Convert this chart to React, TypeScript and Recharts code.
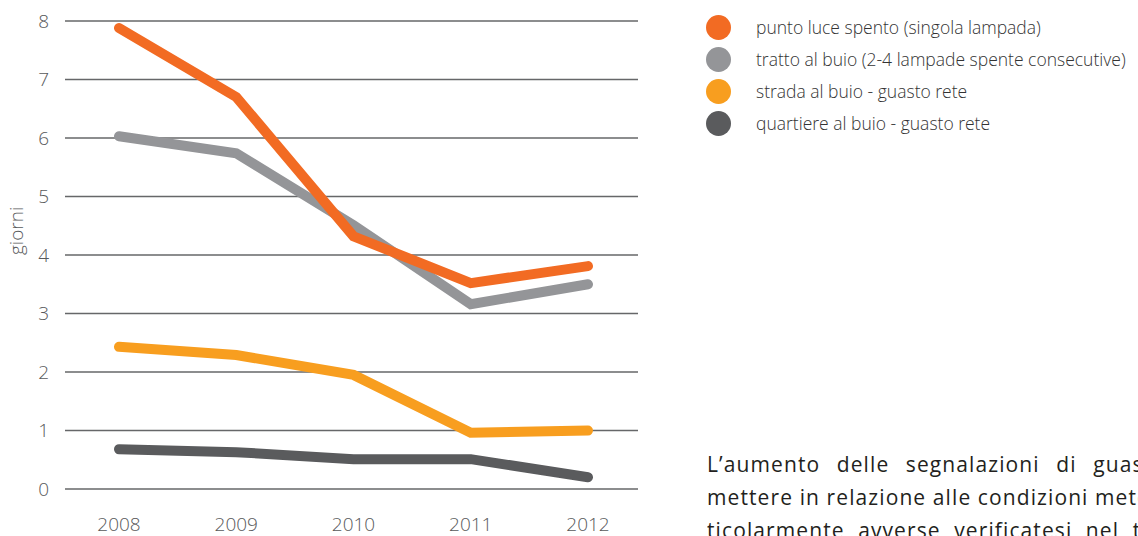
import { LineChart, Line, XAxis, YAxis, CartesianGrid } from "recharts";

const years = ["2008", "2009", "2010", "2011", "2012"];
const puntoLuce = [7.88, 6.7, 4.32, 3.52, 3.81];
const tratto = [6.03, 5.74, 4.51, 3.16, 3.5];
const strada = [2.43, 2.29, 1.95, 0.96, 1.0];
const quartiere = [0.68, 0.63, 0.51, 0.51, 0.2];
const yTicks = [0, 1, 2, 3, 4, 5, 6, 7, 8];

const series = [
  { key: "puntoLuce", name: "punto luce spento (singola lampada)", color: "#f26b23" },
  { key: "tratto", name: "tratto al buio (2-4 lampade spente consecutive)", color: "#949598" },
  { key: "strada", name: "strada al buio - guasto rete", color: "#f89e1f" },
  { key: "quartiere", name: "quartiere al buio - guasto rete", color: "#5a5b5d" },
];

const data = years.map((year, i) => ({
  year,
  puntoLuce: puntoLuce[i],
  tratto: tratto[i],
  strada: strada[i],
  quartiere: quartiere[i],
}));

const font = "'Open Sans', 'Noto Sans', sans-serif";

const LegendBox = () => (
  <div style={{ position: "absolute", left: 706, top: 11, fontFamily: font, fontSize: 17.5, fontWeight: 300, color: "#333" }}>
    {series.map((s) => (
      <div key={s.key} style={{ display: "flex", alignItems: "center", height: 32 }}>
        <span
          style={{
            width: 25,
            height: 25,
            borderRadius: "50%",
            background: s.color,
            display: "inline-block",
            marginRight: 25,
            flexShrink: 0,
          }}
        />
        <span style={{ whiteSpace: "nowrap" }}>{s.name}</span>
      </div>
    ))}
  </div>
);

const lines = [
  { text: "L’aumento delle segnalazioni di guasto è da", spacing: 10 },
  { text: "mettere in relazione alle condizioni meteorologiche", spacing: 0 },
  { text: "ticolarmente avverse verificatesi nel territorio", spacing: 7 },
];

export default function App() {
  return (
    <div style={{ position: "absolute", left: 0, top: 0, width: 1138, height: 536, overflow: "hidden", background: "#fff" }}>
      <LineChart width={1138} height={536} data={data} margin={{ top: 21, right: 500, bottom: 17, left: 0 }}>
        <CartesianGrid vertical={false} stroke="#666769" strokeWidth={1.5} />
        <XAxis
          dataKey="year"
          axisLine={false}
          tickLine={false}
          padding={{ left: 54, right: 50 }}
          tick={{ fill: "#58595b", fontSize: 19, fontFamily: font, fontWeight: 300 }}
          tickMargin={23}
        />
        <YAxis
          width={65}
          domain={[0, 8]}
          ticks={yTicks}
          axisLine={false}
          tickLine={false}
          tickMargin={10}
          tick={{ fill: "#58595b", fontSize: 19, fontFamily: font, fontWeight: 300 }}
          label={{ value: "giorni", angle: -90, position: "insideLeft", offset: 16, fill: "#58595b", fontSize: 19, fontFamily: font, fontWeight: 300 }}
        />
        {[series[1], series[3], series[2], series[0]].map((s) => (
          <Line
            key={s.key}
            dataKey={s.key}
            name={s.name}
            stroke={s.color}
            strokeWidth={10}
            strokeLinecap="round"
            dot={false}
            activeDot={false}
            type="linear"
            isAnimationActive={false}
          />
        ))}
      </LineChart>
      <LegendBox />
      <div
        style={{
          position: "absolute",
          left: 707,
          top: 448,
          width: 431,
          overflow: "hidden",
          fontFamily: font,
          fontSize: 21,
          letterSpacing: 1.1,
          lineHeight: "33px",
          color: "#231f20",
        }}
      >
        {lines.map((l, i) => (
          <div key={i} style={{ whiteSpace: "nowrap", wordSpacing: l.spacing }}>
            {l.text}
          </div>
        ))}
      </div>
    </div>
  );
}
